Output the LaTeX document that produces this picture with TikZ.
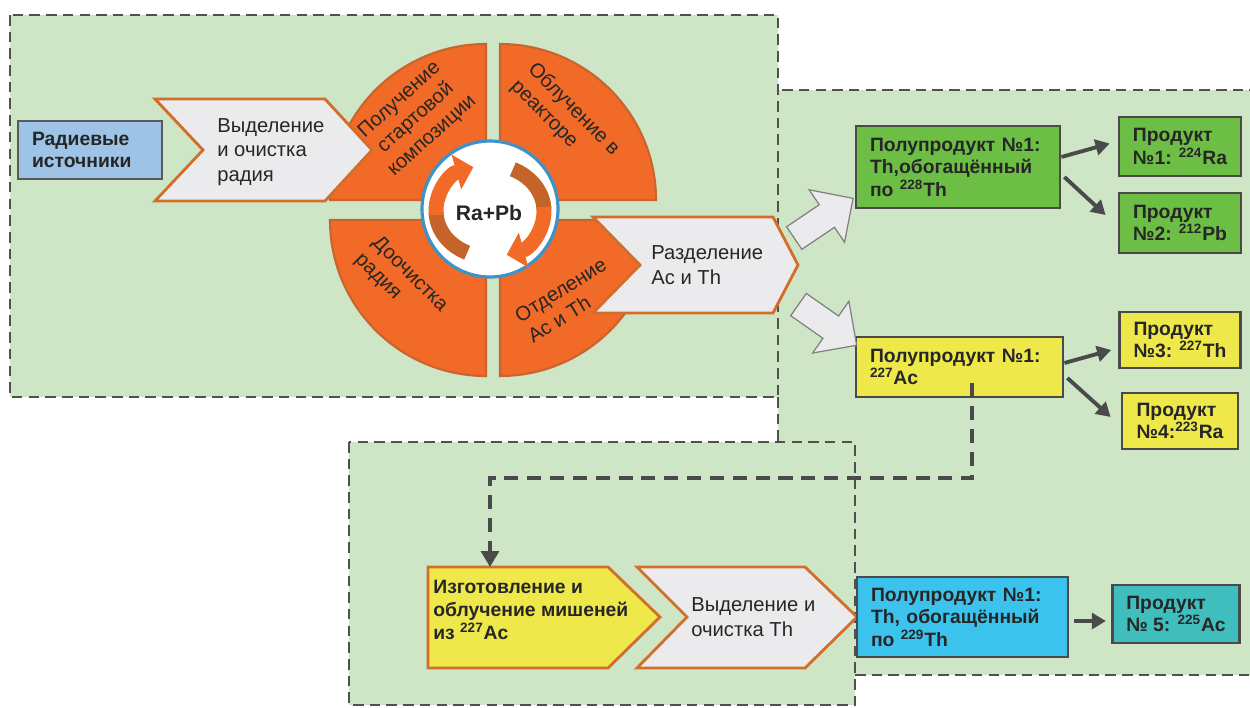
\documentclass[tikz,border=0pt]{standalone}
\usepackage{fontspec}
\setmainfont{Liberation Sans}
\usetikzlibrary{arrows.meta,shapes.arrows}

\definecolor{zone}{RGB}{206,229,198}
\definecolor{zoneline}{RGB}{80,80,80}
\definecolor{sector}{RGB}{242,106,39}
\definecolor{sectorline}{RGB}{200,100,45}
\definecolor{sectordark}{RGB}{196,99,42}
\definecolor{chevfill}{RGB}{235,235,238}
\definecolor{chevline}{RGB}{210,110,42}
\definecolor{srcblue}{RGB}{157,195,230}
\definecolor{halfgreen}{RGB}{109,190,69}
\definecolor{halfyellow}{RGB}{238,232,74}
\definecolor{halfcyan}{RGB}{59,195,238}
\definecolor{prodteal}{RGB}{64,190,190}
\definecolor{ringblue}{RGB}{61,147,201}
\definecolor{arrowgray}{RGB}{74,74,74}

\tikzset{
  zoneborder/.style={draw=zoneline, line width=1.4pt, dash pattern=on 6pt off 3.5pt},
  sectorshape/.style={fill=sector, draw=sectorline, line width=1.2pt},
  chevshape/.style={fill=chevfill, draw=chevline, line width=1.6pt},
  chevtext/.style={anchor=west, align=left, inner sep=0pt, text=black!85, font=\fontsize{11.5}{14}\selectfont},
  sectortext/.style={inner sep=0pt, text=black!85, font=\fontsize{11.5}{13.8}\selectfont},
  box/.style={draw=arrowgray, line width=1.6pt, inner xsep=0.28cm, inner ysep=0pt, align=left,
    text=black!85, font=\fontsize{11}{12.8}\selectfont\bfseries},
  prodarrow/.style={draw=arrowgray, line width=2.2pt, -{Triangle[length=8pt,width=9pt]}},
  blockarrow/.style={shape=single arrow, draw=black!50, fill=chevfill, line width=0.7pt,
    inner sep=0pt, inner ysep=0.26cm, minimum height=1.42cm, single arrow head extend=0.36cm},
  conn/.style={draw=arrowgray, line width=2.3pt, dash pattern=on 8pt off 5pt,
    -{Triangle[length=9pt,width=10pt]}}
}

\begin{document}
\begin{tikzpicture}[x=0.02cm, y=-0.02cm]
  \useasboundingbox (0,0) rectangle (1250,707);

  % zones
  \fill[zone] (10,15) rectangle (778,397);
  \fill[zone] (778,90) -- (1260,90) -- (1260,675) -- (855,675) -- (855,442) -- (778,442) -- cycle;
  \fill[zone] (349,442) rectangle (855,705);
  \draw[zoneborder] (10,15) rectangle (778,397);
  \draw[zoneborder] (1260,90) -- (778,90);
  \draw[zoneborder] (778,397) -- (778,442);
  \draw[zoneborder] (855,675) -- (1260,675);
  \draw[zoneborder] (349,442) rectangle (855,705);

  % cycle
  \foreach \cx/\cy/\a in {486/200/180, 500/200/270, 500/220/0, 486/220/90}
    \filldraw[sectorshape] (\cx,\cy) -- ++(\a:156) arc[start angle=\a, delta angle=90, radius=156] -- cycle;
  \node[sectortext, rotate=42, align=center] (getcomp) at (416,118) {Получение\\стартовой\\композиции};
  \node[sectortext, rotate=-45, align=left] (irrad) at (565,118) {Облучение в\\реакторе};
  \node[sectortext, rotate=-45, align=left] (repur) at (401,283) {Доочистка\\радия};
  \node[sectortext, rotate=32, align=left] (sepac) at (567,300) {Отделение\\Ac и Th};

  \node[circle, draw=ringblue, fill=white, line width=1.8pt, minimum size=2.72cm, inner sep=0pt] (core) at (490,209) {};
  \draw[line width=8.5pt, sectordark] (490,211) ++(115:54 and 46) arc[start angle=115, end angle=178, x radius=54, y radius=46];
  \draw[line width=8.5pt, sector, -{Triangle[length=10pt,width=20pt]}] (490,211) ++(175:54 and 46) arc[start angle=175, end angle=252, x radius=54, y radius=46];
  \draw[line width=8.5pt, sectordark] (490,211) ++(295:54 and 46) arc[start angle=295, end angle=358, x radius=54, y radius=46];
  \draw[line width=8.5pt, sector, -{Triangle[length=10pt,width=20pt]}] (490,211) ++(355:54 and 46) arc[start angle=355, end angle=432, x radius=54, y radius=46];
  \node[font=\fontsize{12}{14}\selectfont\bfseries, text=black!85] (rapb) at (489,213) {Ra+Pb};

  % chevrons
  \filldraw[chevshape] (155,99) -- (325,99) -- (372,150) -- (325,201) -- (155,201) -- (203,150) -- cycle;
  \node[chevtext] (vyd) at (217,152) {Выделение\\и очистка\\радия};
  \filldraw[chevshape] (593,217) -- (773,217) -- (798,265) -- (773,313) -- (593,313) -- (640,265) -- cycle;
  \node[chevtext] (razd) at (651,265) {Разделение\\Ac и Th};
  \filldraw[chevshape, fill=halfyellow] (428,567) -- (608,567) -- (660,617) -- (608,668) -- (428,668) -- cycle;
  \node[chevtext, font=\fontsize{11}{13}\selectfont\bfseries] (izg) at (433,610) {Изготовление и\\облучение мишеней\\из \textsuperscript{227}Ac};
  \coordinate (izgtop) at (490,567);
  \filldraw[chevshape] (637,567) -- (805,567) -- (857,617) -- (805,668) -- (637,668) -- (687,617) -- cycle;
  \node[chevtext] (vydth) at (691,617) {Выделение и\\очистка Th};

  % boxes
  \node[box, fill=srcblue, draw=black!65, text width=2.32cm, minimum height=1.16cm] (src) at (90,150) {Радиевые\\источники};
  \node[box, fill=halfgreen, text width=3.52cm, minimum height=1.64cm] (half1) at (958,167) {Полупродукт №1:\\Th,обогащённый\\по \textsuperscript{228}Th};
  \node[box, fill=halfgreen, minimum width=2.4cm, minimum height=1.18cm] (prod1) at (1180,146.5) {Продукт\\№1: \textsuperscript{224}Ra};
  \node[box, fill=halfgreen, minimum width=2.4cm, minimum height=1.2cm] (prod2) at (1180,223) {Продукт\\№2: \textsuperscript{212}Pb};
  \node[box, fill=halfyellow, text width=3.58cm, minimum height=1.2cm] (half2) at (959.5,367) {Полупродукт №1:\\\textsuperscript{227}Ac};
  \node[box, fill=halfyellow, minimum width=2.32cm, minimum height=1.12cm] (prod3) at (1180,340) {Продукт\\№3: \textsuperscript{227}Th};
  \node[box, fill=halfyellow, minimum width=2.32cm, minimum height=1.12cm] (prod4) at (1180,421) {Продукт\\№4:\textsuperscript{223}Ra};
  \node[box, fill=halfcyan, text width=3.66cm, minimum height=1.6cm] (half3) at (962.5,617) {Полупродукт №1:\\Th, обогащённый\\по \textsuperscript{229}Th};
  \node[box, fill=prodteal, minimum width=2.52cm, minimum height=1.16cm] (prod5) at (1176,614) {Продукт\\№ 5: \textsuperscript{225}Ac};

  % arrows
  \node[blockarrow, rotate=34] (upA) at (818,222) {};
  \node[blockarrow, rotate=-35] (downA) at (822,321) {};
  \draw[prodarrow] ([shift={(0,-10)}]half1.east) -- ([shift={(-8,-3)}]prod1.west);
  \draw[prodarrow] ([shift={(3,10)}]half1.east) -- ([shift={(-12,-8)}]prod2.west);
  \draw[prodarrow] ([shift={(0,-4)}]half2.east) -- ([shift={(-7,10)}]prod3.west);
  \draw[prodarrow] ([shift={(3,11)}]half2.east) -- ([shift={(-10,-4)}]prod4.west);
  \draw[prodarrow] ([shift={(5,4)}]half3.east) -- ([shift={(-5,7)}]prod5.west);
  \draw[conn] ([shift={(12.5,-15)}]half2.south) |- (izgtop |- 0,478) -- (izgtop);
\end{tikzpicture}
\end{document}
